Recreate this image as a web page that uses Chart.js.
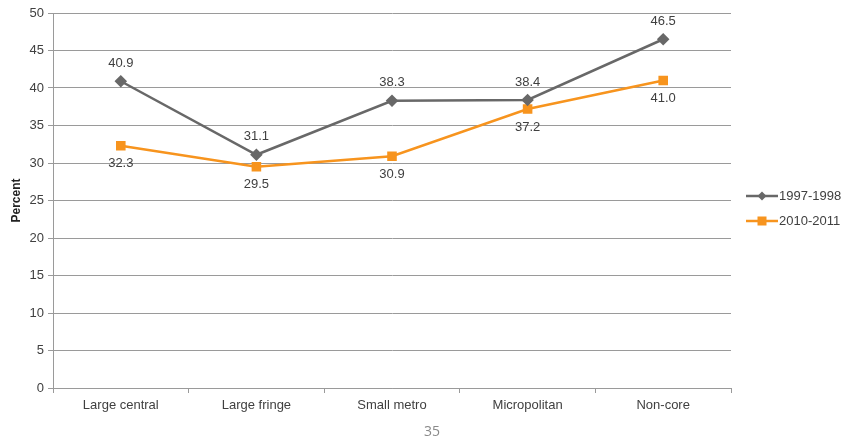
<!DOCTYPE html>
<html>
<head>
<meta charset="utf-8">
<script src="https://cdn.jsdelivr.net/npm/chart.js@4/dist/chart.umd.min.js"></script>
<style>
  html, body { margin: 0; padding: 0; background: #fff; }
  #wrap { position: relative; width: 843px; height: 440px; }
</style>
</head>
<body>
<div id="wrap"><canvas id="c" width="843" height="440"></canvas></div>
<script>
const categories = ['Large central', 'Large fringe', 'Small metro', 'Micropolitan', 'Non-core'];
const series1997 = [40.9, 31.1, 38.3, 38.4, 46.5];
const series2010 = [32.3, 29.5, 30.9, 37.2, 41.0];
const seriesNames = ['1997-1998', '2010-2011'];
const yTicks = [0, 5, 10, 15, 20, 25, 30, 35, 40, 45, 50];
const pageNumber = '35';

const FONT = '"Liberation Sans", Arial, sans-serif';
const TEXT = '#404040';
const GREY = '#686868';
const ORANGE = '#F7941E';

// value labels: first series above its points, second series below
const valueLabels = {
  id: 'valueLabels',
  afterDatasetsDraw(chart) {
    const ctx = chart.ctx;
    ctx.save();
    ctx.font = '13px ' + FONT;
    ctx.fillStyle = TEXT;
    ctx.textAlign = 'center';
    ctx.textBaseline = 'middle';
    chart.data.datasets.forEach((ds, di) => {
      const meta = chart.getDatasetMeta(di);
      meta.data.forEach((pt, i) => {
        const dy = di === 0 ? -18 : 18;
        ctx.fillText(ds.data[i].toFixed(1), pt.x, pt.y + dy);
      });
    });
    ctx.restore();
  }
};

// legend with line + marker samples, and page number
const sideLegend = {
  id: 'sideLegend',
  afterDraw(chart) {
    const ctx = chart.ctx;
    ctx.save();
    const x0 = 746, x1 = 778;
    const rows = [196, 221];
    chart.data.datasets.forEach((ds, di) => {
      const y = rows[di];
      ctx.strokeStyle = ds.borderColor;
      ctx.lineWidth = 2.5;
      ctx.beginPath();
      ctx.moveTo(x0, y);
      ctx.lineTo(x1, y);
      ctx.stroke();
      ctx.fillStyle = ds.borderColor;
      const mx = (x0 + x1) / 2;
      if (di === 0) {
        ctx.beginPath();
        ctx.moveTo(mx, y - 4.5);
        ctx.lineTo(mx + 4.5, y);
        ctx.lineTo(mx, y + 4.5);
        ctx.lineTo(mx - 4.5, y);
        ctx.closePath();
        ctx.fill();
      } else {
        ctx.fillRect(mx - 4.5, y - 4.5, 9, 9);
      }
      ctx.fillStyle = TEXT;
      ctx.font = '13px ' + FONT;
      ctx.textAlign = 'left';
      ctx.textBaseline = 'middle';
      ctx.fillText(ds.label, x1 + 1, y);
    });
    ctx.fillStyle = '#8a8a8a';
    ctx.font = '14px "Open Sans", sans-serif';
    ctx.textAlign = 'center';
    ctx.textBaseline = 'middle';
    ctx.fillText(pageNumber, 432, 432);
    ctx.restore();
  }
};

new Chart(document.getElementById('c'), {
  type: 'line',
  data: {
    labels: categories,
    datasets: [
      {
        label: seriesNames[0],
        data: series1997,
        borderColor: GREY,
        backgroundColor: GREY,
        borderWidth: 2.5,
        pointStyle: 'rectRot',
        pointRadius: 4.5,
        pointHoverRadius: 4.5,
        tension: 0
      },
      {
        label: seriesNames[1],
        data: series2010,
        borderColor: ORANGE,
        backgroundColor: ORANGE,
        borderWidth: 2.5,
        pointStyle: 'rect',
        pointRadius: 5,
        pointHoverRadius: 5,
        tension: 0
      }
    ]
  },
  options: {
    responsive: false,
    animation: false,
    events: [],
    layout: { padding: { top: 13, right: 112, bottom: 0, left: 0 } },
    plugins: {
      legend: { display: false },
      tooltip: { enabled: false }
    },
    scales: {
      x: {
        offset: true,
        grid: {
          offset: true,
          drawOnChartArea: false,
          drawTicks: true,
          tickLength: 5,
          color: '#9a9a9a'
        },
        border: { color: '#9a9a9a', width: 1 },
        ticks: {
          color: TEXT,
          font: { family: FONT, size: 13 },
          padding: 5,
          maxRotation: 0
        },
        afterFit(scale) { scale.height = 52; }
      },
      y: {
        min: 0,
        max: 50,
        afterBuildTicks(scale) { scale.ticks = yTicks.map(v => ({ value: v })); },
        grid: {
          color: '#9a9a9a',
          tickLength: 5,
          lineWidth: 1
        },
        border: { color: '#9a9a9a', width: 1 },
        ticks: {
          color: TEXT,
          font: { family: FONT, size: 13 },
          padding: 4
        },
        title: {
          display: true,
          text: 'Percent',
          color: '#222',
          font: { family: FONT, size: 12, weight: 'bold' },
          padding: { top: 9, bottom: 0 }
        },
        afterFit(scale) { scale.width = 53; }
      }
    }
  },
  plugins: [valueLabels, sideLegend]
});
</script>
</body>
</html>
